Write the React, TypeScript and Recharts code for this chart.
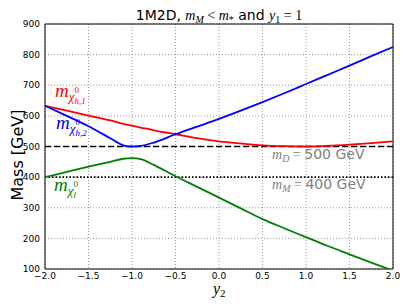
import {
  CartesianGrid,
  Line,
  LineChart,
  ReferenceArea,
  ReferenceLine,
  XAxis,
  YAxis,
} from "recharts";

const y2Values = [
  -2, -1.75, -1.5, -1.25, -1.1, -1, -0.9, -0.75, -0.5, -0.25, 0, 0.25, 0.5,
  0.75, 1, 1.25, 1.5, 1.75, 2,
];
const heavy1 = [
  633, 617, 601, 585, 574, 568, 562, 553, 540, 527, 517, 510, 504, 501, 500,
  502, 506, 511, 517,
];
const heavy2 = [
  633, 600, 566, 527, 504, 500, 502, 513, 540, 565, 590, 617, 645, 674, 704,
  734, 764, 795, 825,
];
const light = [
  400, 417, 434, 450, 460, 462, 459, 440, 403, 368, 333, 298, 263, 233, 204,
  175, 148, 121, 95,
];

const xTicks = [-2, -1.5, -1, -0.5, 0, 0.5, 1, 1.5, 2];
const yTicks = [100, 200, 300, 400, 500, 600, 700, 800, 900];
const mD = 500;
const mM = 400;

const data = y2Values.map((y2, i) => ({
  y2,
  heavy1: heavy1[i],
  heavy2: heavy2[i],
  light: light[i],
}));

const sans = "DejaVu Sans";
const serif = "Liberation Serif";
const tickStyle = { fontSize: 9, fill: "#000", fontFamily: sans };

function CurveLabel({ x, y, color, sub }: { x: number; y: number; color: string; sub: string }) {
  return (
    <text x={x} y={y} fill={color} fontSize={19} fontFamily={serif} fontStyle="italic">
      m
      <tspan fontSize={13} dy={4}>χ</tspan>
      <tspan fontSize={9} fontStyle="normal" dy={-8}>0</tspan>
      <tspan fontSize={9} dx={-4.5} dy={11}>{sub}</tspan>
    </text>
  );
}

export default function App() {
  return (
    <div style={{ position: "absolute", left: 0, top: 0, width: 409, height: 307, background: "#fff" }}>
      <LineChart
        width={409}
        height={307}
        data={data}
        margin={{ top: 24, right: 16, bottom: 0, left: 0 }}
      >
        <CartesianGrid stroke="#9a9a9a" strokeDasharray="1 2" />
        <XAxis
          dataKey="y2"
          type="number"
          domain={[-2, 2]}
          ticks={xTicks}
          tickFormatter={(v: number) => v.toFixed(1).replace("-", "\u2212")}
          tick={tickStyle}
          height={38}
          tickSize={3}
          tickMargin={1}
          tickLine={false}
          axisLine={false}
        />
        <YAxis
          type="number"
          domain={[100, 900]}
          ticks={yTicks}
          allowDataOverflow
          tick={tickStyle}
          width={45}
          tickSize={3}
          tickMargin={2}
          tickLine={false}
          axisLine={false}
        />
        <ReferenceLine y={mD} stroke="#000" strokeWidth={1.6} strokeDasharray="6 3" />
        <ReferenceLine y={mM} stroke="#000" strokeWidth={1.6} strokeDasharray="1.5 2" />
        <Line dataKey="heavy1" type="monotone" stroke="#ff0000" strokeWidth={1.8} dot={false} isAnimationActive={false} />
        <Line dataKey="heavy2" type="monotone" stroke="#0000ff" strokeWidth={1.8} dot={false} isAnimationActive={false} />
        <Line dataKey="light" type="monotone" stroke="#008000" strokeWidth={1.8} dot={false} isAnimationActive={false} />
        <ReferenceArea x1={-2} x2={2} y1={100} y2={900} stroke="#000" strokeWidth={1} fill="none" fillOpacity={0} />
      </LineChart>

      <svg width={409} height={307} style={{ position: "absolute", left: 0, top: 0, pointerEvents: "none" }}>
        <text x={219} y={20} textAnchor="middle" fontSize={14} fontFamily={sans}>
          {"1M2D, "}
          <tspan fontFamily={serif} fontStyle="italic">m</tspan>
          <tspan fontFamily={serif} fontStyle="italic" fontSize={10} dy={3}>M</tspan>
          <tspan fontFamily={serif} dy={-3}>{" < "}</tspan>
          <tspan fontFamily={serif} fontStyle="italic">m</tspan>
          <tspan fontFamily={serif} fontSize={10} dy={3}>*</tspan>
          <tspan dy={-3}>{" and "}</tspan>
          <tspan fontFamily={serif} fontStyle="italic">y</tspan>
          <tspan fontFamily={serif} fontSize={10} dy={3}>1</tspan>
          <tspan fontFamily={serif} dy={-3}>{" = 1"}</tspan>
        </text>

        <text transform="rotate(-90)" x={-155} y={22.5} textAnchor="middle" fontSize={16} fontFamily={sans}>
          Mass [GeV]
        </text>

        <text x={213} y={294} fontSize={16} fontFamily={serif} fontStyle="italic">
          y<tspan fontSize={11} fontStyle="normal" dy={3}>2</tspan>
        </text>

        <CurveLabel x={55} y={97} color="#ff0000" sub="h,1" />
        <CurveLabel x={56} y={129} color="#0000ff" sub="h,2" />
        <CurveLabel x={54} y={191} color="#008000" sub="l" />

        <text x={272} y={159} fill="#808080" fontSize={14} fontFamily={sans}>
          <tspan fontFamily={serif} fontStyle="italic">m</tspan>
          <tspan fontFamily={serif} fontStyle="italic" fontSize={10} dy={3}>D</tspan>
          <tspan fontFamily={serif} dy={-3}>{" = "}</tspan>
          500 GeV
        </text>
        <text x={272} y={189} fill="#808080" fontSize={14} fontFamily={sans}>
          <tspan fontFamily={serif} fontStyle="italic">m</tspan>
          <tspan fontFamily={serif} fontStyle="italic" fontSize={10} dy={3}>M</tspan>
          <tspan fontFamily={serif} dy={-3}>{" = "}</tspan>
          400 GeV
        </text>
      </svg>
    </div>
  );
}
